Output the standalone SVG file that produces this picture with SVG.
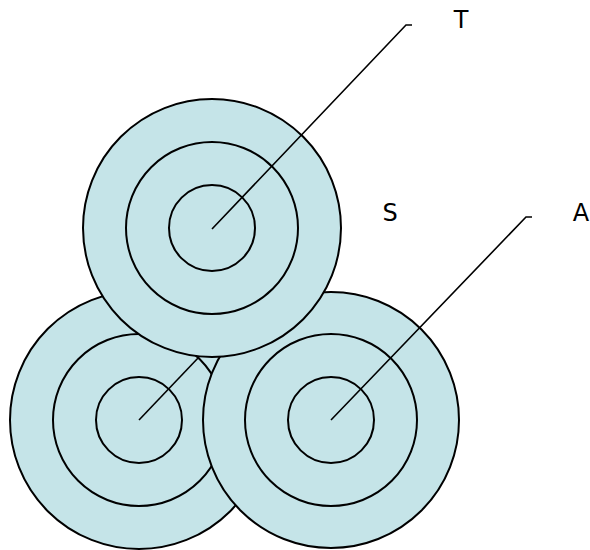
<svg xmlns="http://www.w3.org/2000/svg" width="590" height="550" viewBox="0 0 590 550">
<style>
.c{fill:#c5e4e8;stroke:#000;stroke-width:2}
.r{fill:none;stroke:#000;stroke-width:2}
.l{fill:none;stroke:#000;stroke-width:1.6}
text{font-family:"DejaVu Sans",sans-serif;font-size:24px;fill:#000}
</style>
<rect width="590" height="550" fill="#fff"/>
<g id="node-left">
<circle class="c" cx="139" cy="420" r="129"/>
<circle class="r" cx="139" cy="420" r="86"/>
<circle class="r" cx="139" cy="420" r="43"/>
</g>
<g id="connectors-left"><path class="l" d="M139,420 L199,357"/></g>
<g id="node-right">
<circle class="c" cx="331" cy="420" r="128"/>
<circle class="r" cx="331" cy="420" r="86"/>
<circle class="r" cx="331" cy="420" r="43"/>
</g>
<g id="node-top">
<circle class="c" cx="212" cy="228" r="129"/>
<circle class="r" cx="212" cy="228" r="86"/>
<circle class="r" cx="212" cy="228" r="43"/>
</g>
<g id="connectors">
<path class="l" d="M212,229 L406,25 L412,25"/>
<path class="l" d="M331,420 L526,217 L532,217"/>
</g>
<text x="461" y="28" text-anchor="middle">T</text>
<text x="390" y="221" text-anchor="middle">S</text>
<text x="581" y="221" text-anchor="middle">A</text>
</svg>
